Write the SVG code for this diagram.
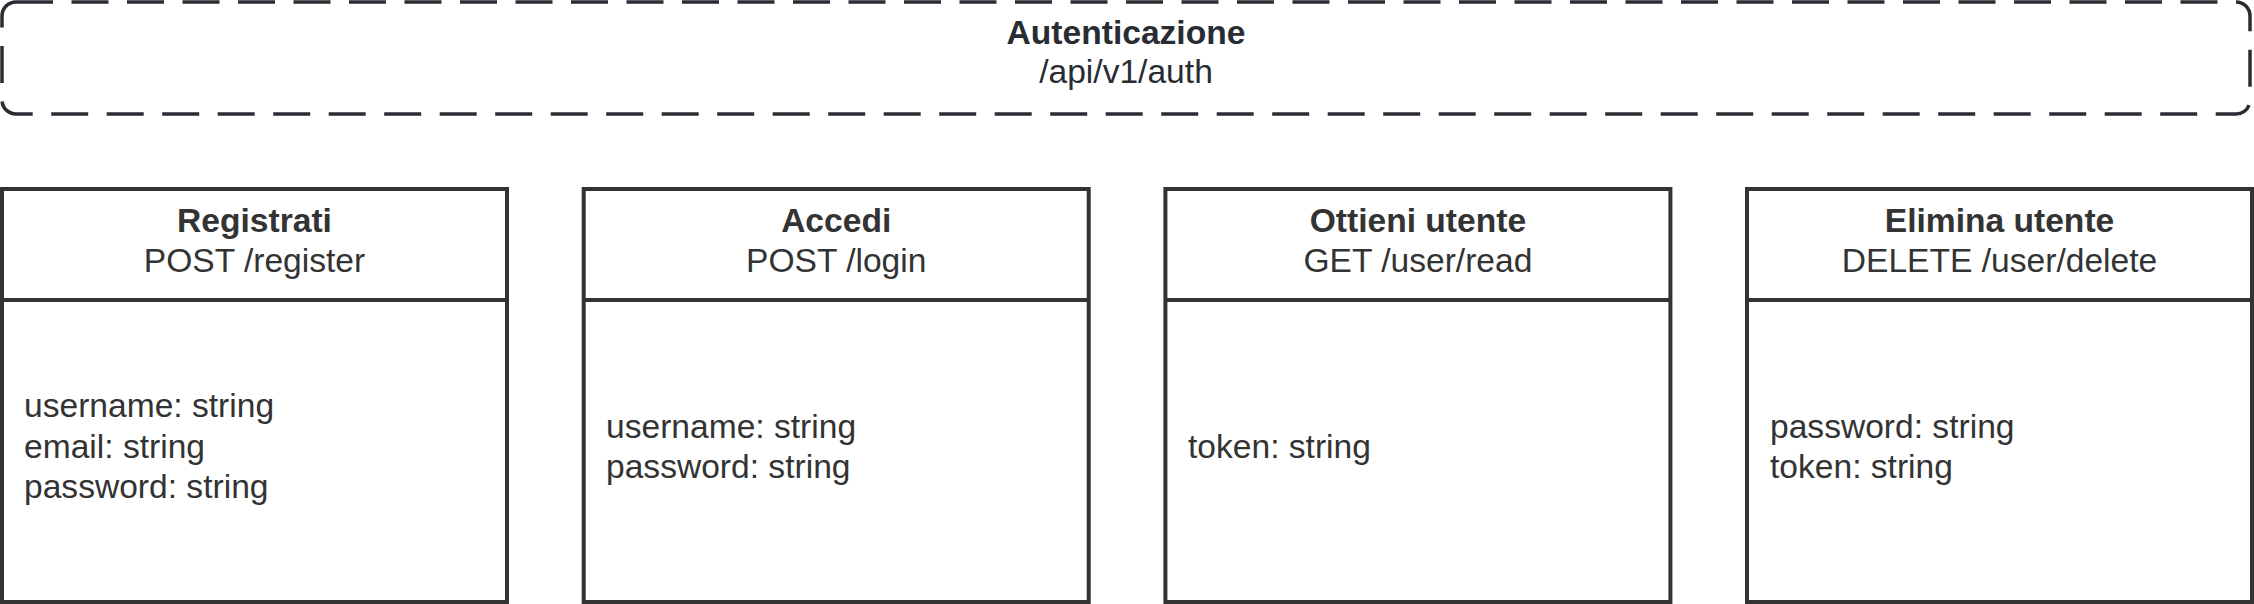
<svg xmlns="http://www.w3.org/2000/svg" width="2254" height="604" viewBox="0 0 2254 604">
<style>
.box{fill:#ffffff;stroke:#333333;stroke-width:4}
.div{stroke:#333333;stroke-width:4}
.grp{fill:none;stroke:#282c33;stroke-width:3.5;stroke-dasharray:37 18.5}
text{font-family:"Liberation Sans",Arial,sans-serif;font-size:33.6px;fill:#333333}
.t{font-weight:bold;text-anchor:middle}
.m{text-anchor:middle}
.g{fill:#282c33}
</style>
<rect width="2254" height="604" fill="#ffffff"/>
<g id="auth-group">
<rect class="grp" x="2" y="2" width="2248" height="112" rx="14"/>
<text class="t g" x="1126" y="44">Autenticazione</text>
<text class="m g" x="1126" y="83">/api/v1/auth</text>
</g>
<g id="registrati">
<rect class="box" x="2" y="189" width="505" height="413"/>
<line class="div" x1="2" y1="300" x2="507" y2="300"/>
<text class="t" x="254.5" y="232">Registrati</text>
<text class="m" x="254.5" y="272">POST /register</text>
<text x="24" y="417">username: string</text>
<text x="24" y="458">email: string</text>
<text x="24" y="498">password: string</text>
</g>
<g id="accedi">
<rect class="box" x="583.7" y="189" width="505" height="413"/>
<line class="div" x1="583.7" y1="300" x2="1088.7" y2="300"/>
<text class="t" x="836.2" y="232">Accedi</text>
<text class="m" x="836.2" y="272">POST /login</text>
<text x="606" y="438">username: string</text>
<text x="606" y="478">password: string</text>
</g>
<g id="ottieni-utente">
<rect class="box" x="1165.4" y="189" width="505" height="413"/>
<line class="div" x1="1165.4" y1="300" x2="1670.4" y2="300"/>
<text class="t" x="1417.9" y="232">Ottieni utente</text>
<text class="m" x="1417.9" y="272">GET /user/read</text>
<text x="1188" y="458">token: string</text>
</g>
<g id="elimina-utente">
<rect class="box" x="1747" y="189" width="505" height="413"/>
<line class="div" x1="1747" y1="300" x2="2252" y2="300"/>
<text class="t" x="1999.5" y="232">Elimina utente</text>
<text class="m" x="1999.5" y="272">DELETE /user/delete</text>
<text x="1770" y="438">password: string</text>
<text x="1770" y="478">token: string</text>
</g>
<g id="connectors"></g>
</svg>
